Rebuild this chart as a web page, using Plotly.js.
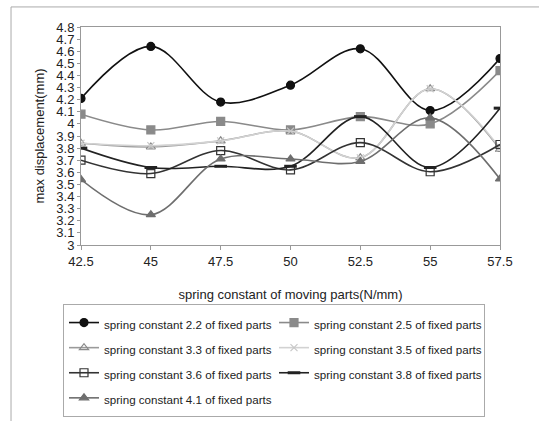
<!DOCTYPE html>
<html><head><meta charset="utf-8">
<script src="https://cdn.plot.ly/plotly-3.0.1.min.js"></script>
<style>html,body{margin:0;padding:0;background:#fff}#c{width:539px;height:421px}</style>
</head><body><div id="c"></div>
<script>
const xCats = [42.5, 45, 47.5, 50, 52.5, 55, 57.5];
const xTickText = ['42.5','45','47.5','50','52.5','55','57.5'];
const names = [
  'spring constant 2.2 of fixed parts',
  'spring constant 2.5 of fixed parts',
  'spring constant 3.3 of fixed parts',
  'spring constant 3.5 of fixed parts',
  'spring constant 3.6 of fixed parts',
  'spring constant 3.8 of fixed parts',
  'spring constant 4.1 of fixed parts'
];
const k22 = [4.21, 4.64, 4.18, 4.32, 4.62, 4.11, 4.54];
const k25 = [4.08, 3.95, 4.02, 3.95, 4.06, 4.00, 4.44];
const k33 = [3.84, 3.81, 3.86, 3.94, 3.72, 4.29, 3.79];
const k35 = [3.84, 3.82, 3.86, 3.94, 3.72, 4.29, 3.80];
const k36 = [3.70, 3.59, 3.78, 3.62, 3.845, 3.605, 3.83];
const k38 = [3.80, 3.64, 3.65, 3.65, 4.06, 3.64, 4.13];
const k41 = [3.54, 3.25, 3.71, 3.71, 3.69, 4.05, 3.545];

const styles = [
  {c:'#111111', sym:'circle', mc:'#111111', ms:8},
  {c:'#8a8a8a', sym:'square', mc:'#8a8a8a', ms:8},
  {c:'#9a9a9a', sym:'triangle-up-open', mc:'#8a8a8a', ms:8},
  {c:'#d2d2d2', sym:'x-thin-open', mc:'#c8c8c8', ms:7},
  {c:'#333333', sym:'square-open', mc:'#333333', ms:8},
  {c:'#222222', sym:'line-ew-open', mc:'#222222', ms:9},
  {c:'#6e6e6e', sym:'triangle-up', mc:'#6e6e6e', ms:8}
];
const series = [k22, k25, k33, k35, k36, k38, k41];
const data = series.map((ys, i) => ({
  x: xCats, y: ys, name: '<span style="font-size:11.6px">' + names[i] + '</span>',
  type: 'scatter', mode: 'lines+markers',
  line: {color: styles[i].c, width: 1.6, shape: 'spline', smoothing: 1},
  marker: {symbol: styles[i].sym, size: styles[i].ms, color: styles[i].mc,
           line: {color: styles[i].mc, width: (i===5?3:1.2)}}
}));
const font = "'Liberation Sans', Arial, sans-serif";
const layout = {
  width: 539, height: 421,
  margin: {l: 81, r: 39, t: 27, b: 176},
  paper_bgcolor: '#fff', plot_bgcolor: '#fff',
  font: {family: font, color: '#222', size: 13},
  showlegend: true,
  xaxis: {
    range: [42.5, 57.5], tickvals: xCats, ticktext: xTickText, automargin: false,
    showgrid: false, zeroline: false, showline: true, linecolor: '#999', linewidth: 1, mirror: true,
    ticks: 'outside', ticklen: 4, tickcolor: '#999',
    tickfont: {size: 13, color: '#222'},
    title: {text: 'spring constant of moving parts(N/mm)', font: {size: 13, color: '#222'}, standoff: 22}
  },
  yaxis: {
    range: [3, 4.8], dtick: 0.1, tick0: 3, automargin: false,
    showgrid: false, zeroline: false, showline: true, linecolor: '#999', linewidth: 1, mirror: true,
    ticks: 'outside', ticklen: 3, tickcolor: '#999',
    tickfont: {size: 13, color: '#222'},
    title: {text: 'max displacement(mm)', font: {size: 13, color: '#222'}, standoff: 8}
  },
  legend: {
    orientation: 'h', xref: 'container', yref: 'container',
    x: 63/539, y: (421-304)/421, xanchor: 'left', yanchor: 'top',
    entrywidth: 165, entrywidthmode: 'pixels',
    bordercolor: '#aaa', borderwidth: 1, bgcolor: '#fff',
    font: {size: 17, color: '#222'}, itemwidth: 30
  },
  shapes: [{
    type: 'rect', xref: 'paper', yref: 'paper',
    x0: -0.167, x1: 1.2, y0: 1.092, y1: -0.9,
    line: {color: '#aaa', width: 1}, fillcolor: 'rgba(0,0,0,0)', layer: 'below'
  }]
};
Plotly.newPlot('c', data, layout, {displayModeBar: false, staticPlot: true});
</script></body></html>
